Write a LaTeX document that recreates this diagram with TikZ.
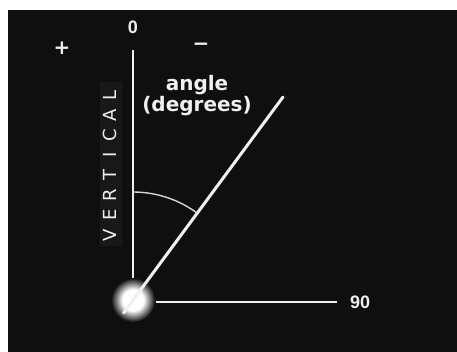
\documentclass[tikz,border=0pt]{standalone}
\usepackage{fontspec}
\setmainfont{DejaVu Sans}
\newfontfamily\numfont{Liberation Sans}
\usetikzlibrary{positioning}
\definecolor{cBg}{RGB}{15,15,15}
\definecolor{cStrip}{RGB}{24,24,24}
\definecolor{cLine}{RGB}{240,240,240}
\definecolor{cArc}{RGB}{215,215,215}
\pgfdeclareradialshading{glowshade}{\pgfpoint{0bp}{0bp}}%
  {color(0bp)=(white); color(12bp)=(white); color(25bp)=(cBg); color(50bp)=(cBg)}
\tikzset{
  axisline/.style={draw=cLine, line width=2.2pt},
  rayline/.style={draw=cLine, line width=3pt, line cap=round},
  anglearc/.style={draw=cArc, line width=1.4pt},
  lbl/.style={text=cLine, font=\bfseries\fontsize{20}{21}\selectfont,
              align=center, inner sep=0pt},
  numlbl/.style={text=cLine, font=\numfont\bfseries\fontsize{18}{18}\selectfont,
                 inner sep=0pt},
  signlbl/.style={text=cLine, font=\bfseries\fontsize{20}{20}\selectfont,
                  inner sep=0pt},
  vertlbl/.style={text=cLine, font=\fontsize{18}{18}\selectfont,
                  rotate=90, inner sep=0pt},
}

\begin{document}
\begin{tikzpicture}[x=1pt, y=-1pt]

%% ============================================================
%%  FRAME
%% ============================================================
\useasboundingbox (0,0) rectangle (457,352);
\fill[white] (0,0) rectangle (457,352);
\fill[cBg] (8,10) rectangle (457,352);

%% ----- Key points -----
\coordinate (pivot) at (133,300);
\coordinate (top)   at (133,50);
\coordinate (hleft) at (156,302);
\coordinate (hright) at (337,302);
\coordinate (tip)   at (283,97);
\coordinate (tail)  at (123.5,313);

%% ============================================================
%%  VERTICAL label
%% ============================================================
\fill[cStrip] (100,82) rectangle (122,246);
\foreach \ch [count=\i] in {V,E,R,T,I,C,A,L} {
  \node[vertlbl] (v\i) at (110, 255-20*\i) {\ch};
}

%% ============================================================
%%  Axes, glow, ray, arc
%% ============================================================
\draw[axisline] (top) -- (pivot);
\draw[axisline] (hleft) -- (hright);
\shade[shading=glowshade] (pivot) circle[radius=22];
\draw[rayline] (tail) -- (tip);
\draw[anglearc] (pivot) ++(-90:108) arc[start angle=-90, end angle=-53.5, radius=108];

%% ============================================================
%%  Labels
%% ============================================================
\node[numlbl] (zero) at (133,27) {0};
\node[numlbl, anchor=west] (ninety) at (350,302) {90};
\node[signlbl] (plus) at (62,48) {+};
\node[signlbl] (minus) at (201,47) {−};
\node[lbl] (angle) at (197,95.5) {angle\\(degrees)};

\end{tikzpicture}
\end{document}
